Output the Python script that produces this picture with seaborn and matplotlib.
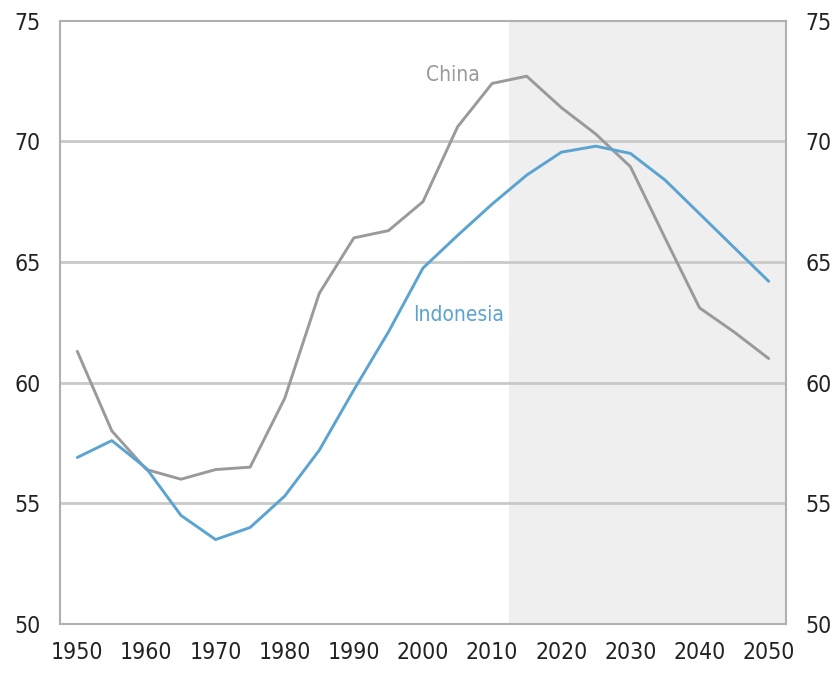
import matplotlib
matplotlib.use("Agg")
import matplotlib.pyplot as plt
import numpy as np
import pandas as pd
import seaborn as sns

# Data (5-year steps)
years = list(range(1950, 2051, 5))
china = [61.3, 58.0, 56.4, 56.0, 56.4, 56.5, 59.35, 63.7, 66.0, 66.3, 67.5,
         70.6, 72.4, 72.7, 71.4, 70.3, 68.95, 66.0, 63.1, 62.1, 61.0]
indonesia = [56.9, 57.6, 56.45, 54.5, 53.5, 54.0, 55.3, 57.2, 59.7, 62.1, 64.75,
             66.1, 67.4, 68.6, 69.55, 69.8, 69.5, 68.4, 67.0, 65.6, 64.2]
x_labels = [str(y) for y in range(1950, 2051, 10)]
projection_start = 2012.5

CHINA_COLOR = "#9a9a9a"
INDO_COLOR = "#5ba3d0"

sns.set_style("white")
# condensed face to mimic the narrow font of the original
plt.rcParams["font.family"] = ["DejaVu Sans"]
plt.rcParams["font.stretch"] = "condensed"

df = pd.DataFrame({"year": years, "China": china, "Indonesia": indonesia})

fig = plt.figure(figsize=(8.39, 6.76), dpi=100)
ax = fig.add_axes([0.0715, 0.0769, 0.8653, 0.8925])

# projection period shading + horizontal grid
ax.axvspan(projection_start, 2052.5, color="#efefef", zorder=0, lw=0)
for yv in [55, 60, 65, 70]:
    ax.axhline(yv, color="#c9c9c9", lw=2, zorder=1)

sns.lineplot(data=df, x="year", y="China", color=CHINA_COLOR, lw=2.1, ax=ax, zorder=3)
sns.lineplot(data=df, x="year", y="Indonesia", color=INDO_COLOR, lw=2.1, ax=ax, zorder=3)

ax.text(2008.3, 72.75, "China", color=CHINA_COLOR, fontsize=15, ha="right", va="center")
ax.text(2005.2, 62.8, "Indonesia", color=INDO_COLOR, fontsize=15, ha="center", va="center")

ax.set_xlim(1947.5, 2052.5)
ax.set_ylim(50, 75)
ax.set_xticks(range(1950, 2051, 10))
ax.set_xticklabels(x_labels)
ax.set_xticks(np.arange(1952.5, 2050, 5), minor=True)
ax.set_yticks([50, 55, 60, 65, 70, 75])
ax.set_xlabel("")
ax.set_ylabel("")

ax.tick_params(axis="x", which="major", length=0, pad=12, labelsize=16.5, labelcolor="#222222")
ax.tick_params(axis="x", which="minor", direction="in", length=7, color="#c0c0c0", width=1)
ax.tick_params(axis="y", length=0, pad=14, labelsize=16.5, labelcolor="#222222",
               labelright=True, labelleft=True)

for side in ["left", "right", "top", "bottom"]:
    ax.spines[side].set_visible(True)
    ax.spines[side].set_color("#b0b0b0")
    ax.spines[side].set_linewidth(1.5)

fig.savefig("out.png", dpi=100, facecolor="white")
